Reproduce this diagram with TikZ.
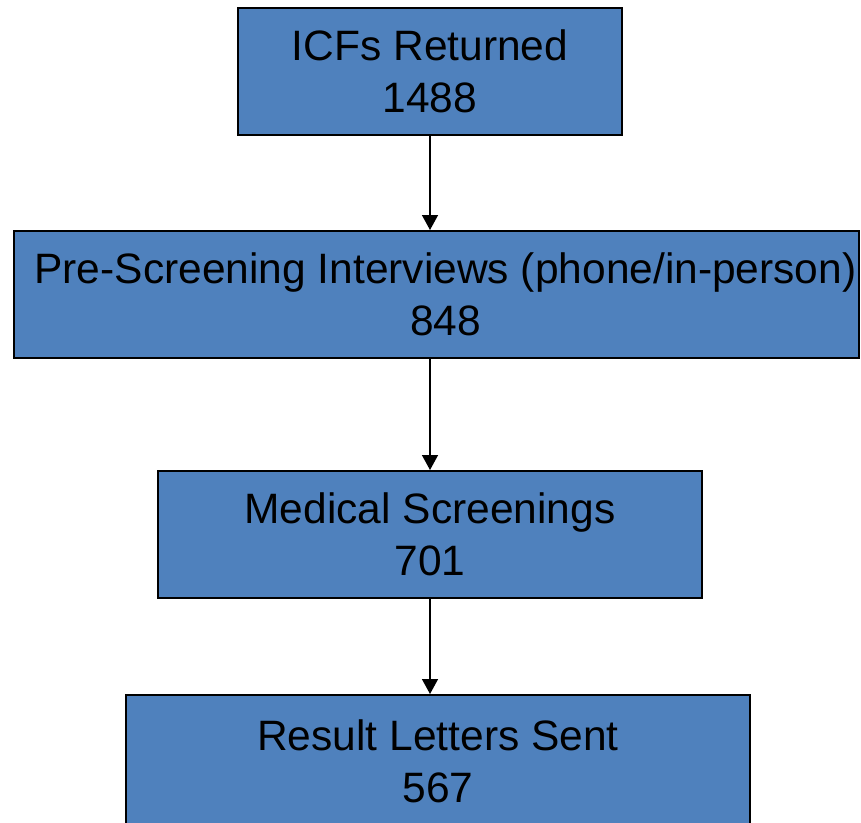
\documentclass[tikz,border=0pt]{standalone}
\usepackage{fontspec}
\setmainfont{Liberation Sans}
\usetikzlibrary{arrows.meta}
\definecolor{boxblue}{HTML}{4F81BD}
\begin{document}
\begin{tikzpicture}[x=1pt,y=1pt,
  stage/.style={draw=black, line width=2pt, fill=boxblue, align=center,
    minimum height=127pt, inner sep=0pt,
    font=\fontsize{42.5}{52}\selectfont},
  flow/.style={-{Triangle[width=16pt,length=15pt]}, line width=1.5pt}]

  \useasboundingbox (0pt,0pt) rectangle (861pt,-822pt);

  \node[stage, minimum width=384pt] (icf) at (430pt,-71pt)
    {ICFs Returned\\1488};
  \node[stage, minimum width=845pt] (prescreen) at (436.5pt,-294.5pt)
    {\hspace*{18pt}Pre-Screening Interviews (phone/in-person)\\
     \hspace*{18pt}848};
  \node[stage, minimum width=544pt] (medical) at (430pt,-534.5pt)
    {Medical Screenings\\701};
  \node[stage, minimum width=624pt, minimum height=132pt] (letters)
    at (438pt,-761pt) {Result Letters Sent\\567};

  \draw[flow] (icf.south) -- (icf.south |- prescreen.north);
  \draw[flow] (icf.south |- prescreen.south) -- (icf.south |- medical.north);
  \draw[flow] (medical.south) -- (medical.south |- letters.north);

\end{tikzpicture}
\end{document}
